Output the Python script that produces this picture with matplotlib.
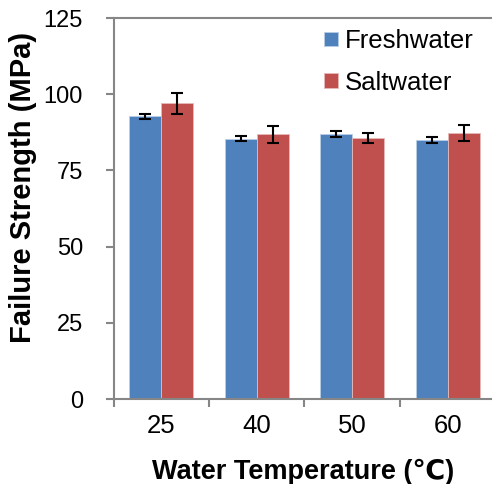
import matplotlib
matplotlib.use("Agg")
import matplotlib.pyplot as plt
import numpy as np

categories = ["25", "40", "50", "60"]
fresh = [92.8, 85.4, 86.9, 85.1]
fresh_err = [0.8, 0.8, 1.0, 1.0]
salt = [97.0, 86.8, 85.6, 87.3]
salt_err = [3.5, 2.7, 1.6, 2.6]
series_names = ["Freshwater", "Saltwater"]
y_ticks = [0, 25, 50, 75, 100, 125]

plt.rcParams['font.family'] = ['Liberation Sans', 'DejaVu Sans']

fig = plt.figure(figsize=(4.92, 4.84), dpi=100)
ax = fig.add_axes([0.2307, 0.1756, 0.7764, 0.7872])

x = np.arange(len(categories))
w = 0.335
gray = "#868686"
ek = dict(ecolor="black", capsize=4.3, elinewidth=1.5, capthick=1.5)
ax.bar(x - w/2, fresh, w, yerr=fresh_err, color="#4F81BD", edgecolor="#B9CDE5",
       linewidth=0.6, label=series_names[0], error_kw=ek)
ax.bar(x + w/2, salt, w, yerr=salt_err, color="#C0504D", edgecolor="#E6B9B8",
       linewidth=0.6, label=series_names[1], error_kw=ek)

ax.set_xlim(-0.5, len(categories) - 0.5)
ax.set_ylim(0, 125)
ax.set_yticks(y_ticks)
ax.set_xticks(x)
ax.set_xticklabels(categories)
ax.set_xticks(np.arange(len(categories) + 1) - 0.5, minor=True)
ax.tick_params(axis='x', which='major', length=0, labelsize=18.5, pad=10.8)
ax.tick_params(axis='x', which='minor', length=6, width=1.5, color=gray, direction='out')
ax.tick_params(axis='y', length=6, width=1.5, color=gray, labelsize=17, pad=16)

ax.spines["right"].set_visible(False)
for s in ["left", "bottom", "top"]:
    ax.spines[s].set_color(gray)
    ax.spines[s].set_linewidth(1.5)

ax.set_ylabel("Failure Strength (MPa)", fontsize=21, fontweight='bold')
ax.yaxis.label.set_va('center')
ax.yaxis.label.set_ha('center')
ax.yaxis.set_label_coords(-0.237, 0.554)
ax.set_xlabel("Water Temperature (℃)", fontsize=19.5, fontweight='bold')
ax.xaxis.label.set_va('center')
ax.xaxis.set_label_coords(0.497, -0.1906)

ax.legend(loc="upper left", frameon=False, fontsize=18.5, handlelength=0.55,
          handleheight=0.5, handletextpad=0.27, labelspacing=0.68,
          borderpad=0, borderaxespad=0,
          bbox_to_anchor=(0.6585, 0.940), bbox_transform=fig.transFigure)

fig.savefig("out.png", dpi=100)
